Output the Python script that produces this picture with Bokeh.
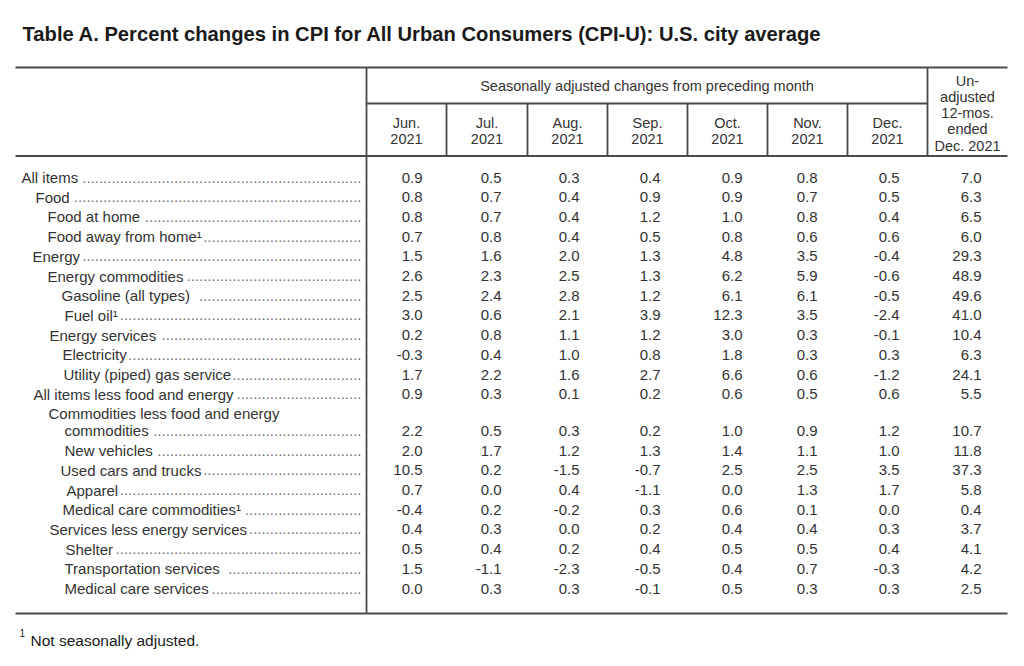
from bokeh.plotting import figure
from bokeh.models import Range1d
from bokeh.core.properties import value
from bokeh.embed import file_html
from bokeh.resources import INLINE

# ---------------- data ----------------
title = "Table A. Percent changes in CPI for All Urban Consumers (CPI-U): U.S. city average"
group_header = "Seasonally adjusted changes from preceding month"
months = ["Jun.", "Jul.", "Aug.", "Sep.", "Oct.", "Nov.", "Dec."]
years = ["2021", "2021", "2021", "2021", "2021", "2021", "2021"]
last_header = ["Un-", "adjusted", "12-mos.", "ended", "Dec. 2021"]
footnote = "Not seasonally adjusted."

items = [
    "All items", "Food", "Food at home", "Food away from home\u00b9", "Energy",
    "Energy commodities", "Gasoline  (all types)", "Fuel oil\u00b9", "Energy services",
    "Electricity", "Utility (piped) gas service", "All items less food and energy",
    "Commodities less food and energy|commodities", "New vehicles", "Used cars and trucks",
    "Apparel", "Medical care commodities\u00b9", "Services less energy services",
    "Shelter", "Transportation  services", "Medical care services",
]

jun = [0.9, 0.8, 0.8, 0.7, 1.5, 2.6, 2.5, 3.0, 0.2, -0.3, 1.7, 0.9, 2.2, 2.0, 10.5, 0.7, -0.4, 0.4, 0.5, 1.5, 0.0]
jul = [0.5, 0.7, 0.7, 0.8, 1.6, 2.3, 2.4, 0.6, 0.8, 0.4, 2.2, 0.3, 0.5, 1.7, 0.2, 0.0, 0.2, 0.3, 0.4, -1.1, 0.3]
aug = [0.3, 0.4, 0.4, 0.4, 2.0, 2.5, 2.8, 2.1, 1.1, 1.0, 1.6, 0.1, 0.3, 1.2, -1.5, 0.4, -0.2, 0.0, 0.2, -2.3, 0.3]
sep = [0.4, 0.9, 1.2, 0.5, 1.3, 1.3, 1.2, 3.9, 1.2, 0.8, 2.7, 0.2, 0.2, 1.3, -0.7, -1.1, 0.3, 0.2, 0.4, -0.5, -0.1]
oct_ = [0.9, 0.9, 1.0, 0.8, 4.8, 6.2, 6.1, 12.3, 3.0, 1.8, 6.6, 0.6, 1.0, 1.4, 2.5, 0.0, 0.6, 0.4, 0.5, 0.4, 0.5]
nov = [0.8, 0.7, 0.8, 0.6, 3.5, 5.9, 6.1, 3.5, 0.3, 0.3, 0.6, 0.5, 0.9, 1.1, 2.5, 1.3, 0.1, 0.4, 0.5, 0.7, 0.3]
dec = [0.5, 0.5, 0.4, 0.6, -0.4, -0.6, -0.5, -2.4, -0.1, 0.3, -1.2, 0.6, 1.2, 1.0, 3.5, 1.7, 0.0, 0.3, 0.4, -0.3, 0.3]
yoy = [7.0, 6.3, 6.5, 6.0, 29.3, 48.9, 49.6, 41.0, 10.4, 6.3, 24.1, 5.5, 10.7, 11.8, 37.3, 5.8, 0.4, 3.7, 4.1, 4.2, 2.5]

columns = [jun, jul, aug, sep, oct_, nov, dec, yoy]

# ---------------- layout (pixel space of the page) ----------------
FONT = value("Liberation Sans")
TXT = "#333333"
LINE = "#4a4a4a"
BODY = "15px"
BODY_PX = 15.0

indent = [21, 35, 47, 47, 32, 47, 61, 64, 49, 62, 63, 33, 64, 64, 60, 66, 62, 49, 65, 64, 64]
row_y = []
for i in range(len(items)):
    y = 177 + i * 19.7 + (17 if i >= 12 else 0)
    row_y.append(y)

bounds = [366, 446, 527, 607, 687, 767, 847, 927, 1007]
right_edges = [422, 501, 579, 660, 742, 817, 899, 981]

# Arial / Liberation Sans advance widths (1/1000 em)
W = {' ': 278, '.': 278, '(': 333, ')': 333, '-': 333, '\u00b9': 333,
     'a': 556, 'b': 556, 'c': 500, 'd': 556, 'e': 556, 'f': 278, 'g': 556, 'h': 556,
     'i': 222, 'j': 222, 'k': 500, 'l': 222, 'm': 833, 'n': 556, 'o': 556, 'p': 556,
     'q': 556, 'r': 333, 's': 500, 't': 278, 'u': 556, 'v': 500, 'w': 722, 'x': 500,
     'y': 500, 'z': 500, 'A': 667, 'C': 722, 'E': 667, 'F': 611, 'G': 778, 'M': 833,
     'N': 722, 'S': 667, 'T': 611, 'U': 722}


def tw(s, size=BODY_PX):
    return sum(W.get(ch, 556) for ch in s) * size / 1000.0


p = figure(width=1008, height=650, output_backend="svg", toolbar_location=None,
           x_range=Range1d(0, 1008), y_range=Range1d(650, 0),
           min_border=0, x_axis_location=None, y_axis_location=None)
p.grid.visible = False
p.outline_line_color = None
p.background_fill_color = "white"
p.border_fill_color = "white"

# title
p.text(x=[22], y=[33], text=[title], text_font=FONT, text_font_size="20.2px",
       text_font_style="bold", text_color="#1a1a1a", text_baseline="middle")

# rules
hx0 = [15, 366, 15, 15]
hx1 = [1007, 927, 1007, 1007]
hy = [67, 103, 155.5, 613]
p.segment(x0=hx0, y0=hy, x1=hx1, y1=hy, line_color=LINE, line_width=2)
vx = [366, 927] + bounds[1:7]
vy0 = [67, 67] + [103] * 6
vy1 = [613, 155.5] + [155.5] * 6
p.segment(x0=vx, y0=vy0, x1=vx, y1=vy1, line_color=LINE, line_width=1.8)

# headers
p.text(x=[(366 + 927) / 2], y=[85], text=[group_header], text_font=FONT,
       text_font_size="14.5px", text_color=TXT, text_align="center", text_baseline="middle")
cx = [(bounds[i] + bounds[i + 1]) / 2 for i in range(7)]
p.text(x=cx, y=[122] * 7, text=months, text_font=FONT, text_font_size="14.5px",
       text_color=TXT, text_align="center", text_baseline="middle")
p.text(x=cx, y=[138] * 7, text=years, text_font=FONT, text_font_size="14.5px",
       text_color=TXT, text_align="center", text_baseline="middle")
p.text(x=[967] * 5, y=[80, 96, 112, 128, 145], text=last_header, text_font=FONT,
       text_font_size="14.5px", text_color=TXT, text_align="center", text_baseline="middle")

# row labels + dot leaders
lx, ly, lt = [], [], []
dx, dy, dt = [], [], []
for i, lab in enumerate(items):
    y = row_y[i]
    if "|" in lab:
        first, second = lab.split("|")
        lx.append(48); ly.append(y - 17); lt.append(first)
        lab = second
    lx.append(indent[i]); ly.append(y); lt.append(lab)
    end = indent[i] + tw(lab) + 1
    n = int((361 - end) / tw("."))
    dx.append(361); dy.append(y); dt.append("." * max(n, 0))

p.text(x=dx, y=dy, text=dt, text_font=FONT, text_font_size=BODY, text_color="#707070",
       text_align="right", text_baseline="middle")
p.text(x=lx, y=ly, text=lt, text_font=FONT, text_font_size=BODY, text_color=TXT,
       text_baseline="middle")

# values
vxs, vys, vts = [], [], []
for c, col in enumerate(columns):
    for i, v in enumerate(col):
        vxs.append(right_edges[c]); vys.append(row_y[i]); vts.append(f"{v:.1f}")
p.text(x=vxs, y=vys, text=vts, text_font=FONT, text_font_size=BODY, text_color=TXT,
       text_align="right", text_baseline="middle")

# footnote
p.text(x=[19], y=[632], text=["1"], text_font=FONT, text_font_size="10px",
       text_color="#1a1a1a", text_baseline="middle")
p.text(x=[30], y=[640], text=[footnote], text_font=FONT, text_font_size="15.5px",
       text_color="#1a1a1a", text_baseline="middle")

open("out.html", "w").write(file_html(p, INLINE))
